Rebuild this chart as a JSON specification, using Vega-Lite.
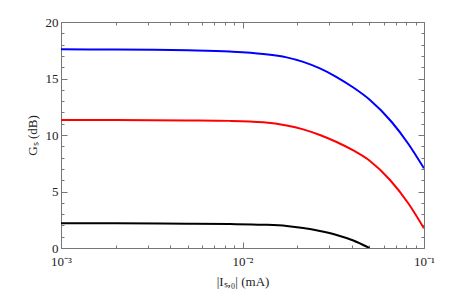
{
  "$schema": "https://vega.github.io/schema/vega-lite/v6.json",
  "autosize": "none",
  "width": 363,
  "height": 226,
  "padding": {"left": 61, "top": 22, "right": 45, "bottom": 45},
  "background": "white",
  "config": {
    "view": {"stroke": null},
    "font": "Liberation Serif",
    "axis": {
      "grid": false,
      "domainColor": "#777",
      "tickColor": "#777",
      "labelFont": "Liberation Serif",
      "titleFont": "Liberation Serif",
      "labelFontSize": 13,
      "titleFontSize": 13,
      "labelColor": "#222",
      "titleColor": "#222",
      "titleFontWeight": "normal"
    }
  },
  "data": {
    "values": [
      {"I": 0.001, "G": 17.58, "s": "blue"},
      {"I": 0.002, "G": 17.57, "s": "blue"},
      {"I": 0.005, "G": 17.49, "s": "blue"},
      {"I": 0.0085, "G": 17.38, "s": "blue"},
      {"I": 0.013, "G": 17.17, "s": "blue"},
      {"I": 0.0175, "G": 16.87, "s": "blue"},
      {"I": 0.0216, "G": 16.47, "s": "blue"},
      {"I": 0.0267, "G": 15.89, "s": "blue"},
      {"I": 0.033, "G": 15.13, "s": "blue"},
      {"I": 0.0408, "G": 14.2, "s": "blue"},
      {"I": 0.0504, "G": 13.1, "s": "blue"},
      {"I": 0.0664, "G": 11.15, "s": "blue"},
      {"I": 0.0817, "G": 9.25, "s": "blue"},
      {"I": 0.1, "G": 7.05, "s": "blue"},
      {"I": 0.001, "G": 11.33, "s": "red"},
      {"I": 0.002, "G": 11.32, "s": "red"},
      {"I": 0.005, "G": 11.29, "s": "red"},
      {"I": 0.0085, "G": 11.25, "s": "red"},
      {"I": 0.013, "G": 11.13, "s": "red"},
      {"I": 0.0175, "G": 10.85, "s": "red"},
      {"I": 0.0216, "G": 10.5, "s": "red"},
      {"I": 0.0267, "G": 10.0, "s": "red"},
      {"I": 0.033, "G": 9.38, "s": "red"},
      {"I": 0.0408, "G": 8.63, "s": "red"},
      {"I": 0.0504, "G": 7.7, "s": "red"},
      {"I": 0.065, "G": 6.02, "s": "red"},
      {"I": 0.0817, "G": 3.98, "s": "red"},
      {"I": 0.1, "G": 1.74, "s": "red"},
      {"I": 0.001, "G": 2.19, "s": "black"},
      {"I": 0.002, "G": 2.18, "s": "black"},
      {"I": 0.005, "G": 2.15, "s": "black"},
      {"I": 0.0085, "G": 2.12, "s": "black"},
      {"I": 0.013, "G": 2.06, "s": "black"},
      {"I": 0.0175, "G": 1.95, "s": "black"},
      {"I": 0.0216, "G": 1.77, "s": "black"},
      {"I": 0.0267, "G": 1.5, "s": "black"},
      {"I": 0.033, "G": 1.15, "s": "black"},
      {"I": 0.0408, "G": 0.66, "s": "black"},
      {"I": 0.05, "G": 0.0, "s": "black"}
    ]
  },
  "resolve": {"axis": {"x": "independent", "y": "independent"}},
  "layer": [
    {
      "mark": {"type": "line", "strokeWidth": 2, "interpolate": "monotone", "clip": true},
      "encoding": {
        "x": {
          "field": "I", "type": "quantitative",
          "scale": {"type": "log", "domain": [0.001, 0.1], "nice": false},
          "axis": {
            "orient": "bottom",
            "title": "|Iₛ,₀| (mA)",
            "titlePadding": 4,
            "values": [0.001,0.002,0.003,0.004,0.005,0.006,0.007,0.008,0.009,0.01,0.02,0.03,0.04,0.05,0.06,0.07,0.08,0.09,0.1],
            "labelExpr": "datum.value == 0.001 ? '10⁻³' : datum.value == 0.01 ? '10⁻²' : datum.value == 0.1 ? '10⁻¹' : ''",
            "tickSize": {"condition": {"test": "datum.value == 0.001 || datum.value == 0.01 || datum.value == 0.1", "value": -6}, "value": -3},
            "labelPadding": 13,
            "labelFlush": false,
            "labelOverlap": false
          }
        },
        "y": {
          "field": "G", "type": "quantitative",
          "scale": {"domain": [0, 20], "nice": false},
          "axis": {
            "orient": "left",
            "title": "Gₛ (dB)",
            "titlePadding": 6,
            "values": [0,1,2,3,4,5,6,7,8,9,10,11,12,13,14,15,16,17,18,19,20],
            "labelExpr": "datum.value % 5 == 0 ? datum.label : ''",
            "tickSize": {"condition": {"test": "datum.value % 5 == 0", "value": -6}, "value": -3},
            "labelPadding": 9,
            "labelOverlap": false
          }
        },
        "color": {
          "field": "s", "type": "nominal",
          "scale": {"domain": ["blue", "red", "black"], "range": ["#0000ff", "#ff0000", "#000000"]},
          "legend": null
        }
      }
    },
    {
      "mark": {"type": "line", "opacity": 0},
      "encoding": {
        "x": {
          "field": "I", "type": "quantitative",
          "axis": {
            "orient": "top",
            "title": null,
            "labels": false,
            "values": [0.001,0.002,0.003,0.004,0.005,0.006,0.007,0.008,0.009,0.01,0.02,0.03,0.04,0.05,0.06,0.07,0.08,0.09,0.1],
            "tickSize": {"condition": {"test": "datum.value == 0.001 || datum.value == 0.01 || datum.value == 0.1", "value": -6}, "value": -3}
          }
        },
        "y": {
          "field": "G", "type": "quantitative",
          "axis": {
            "orient": "right",
            "title": null,
            "labels": false,
            "values": [0,1,2,3,4,5,6,7,8,9,10,11,12,13,14,15,16,17,18,19,20],
            "tickSize": {"condition": {"test": "datum.value % 5 == 0", "value": -6}, "value": -3}
          }
        },
        "detail": {"field": "s"}
      }
    }
  ]
}
